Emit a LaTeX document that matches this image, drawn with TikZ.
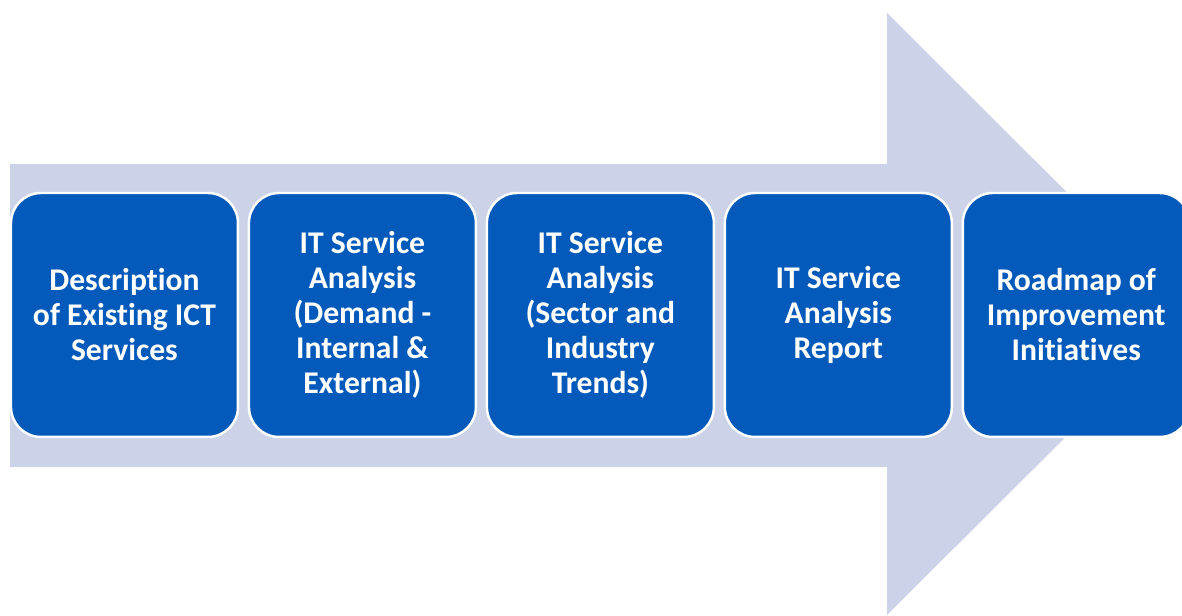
\documentclass[tikz,border=0pt]{standalone}
\usepackage{fontspec}
\setmainfont[Ligatures=NoCommon]{Carlito}
\usetikzlibrary{positioning}

\definecolor{stageblue}{RGB}{4,90,186}
\definecolor{arrowgrey}{RGB}{204,211,232}
\tikzset{stage/.style={draw=white, line width=1.4pt, fill=stageblue, rounded corners=0.6cm,
    minimum width=4.54cm, minimum height=4.88cm, inner sep=0pt, outer sep=0pt,
    align=center, text=white, font=\fontsize{18}{19.9}\selectfont\bfseries}}

\begin{document}
\begin{tikzpicture}[x=0.02cm,y=-0.02cm]
  \useasboundingbox (0,0) rectangle (1182,615);
  % big arrow behind the stages
  \fill[arrowgrey] (10,164) -- (887,164) -- (887,13) -- (1189,314) -- (887,615) -- (887,467) -- (10,467) -- cycle;
  \node[stage, anchor=north west] (desc) at (11,193) {Description\\of Existing ICT\\Services};
  \node[stage, right=0.22cm of desc] (demand) {IT Service\\Analysis\\(Demand -\\Internal \&\\External)};
  \node[stage, right=0.22cm of demand] (trends) {IT Service\\Analysis\\(Sector and\\Industry\\Trends)};
  \node[stage, right=0.22cm of trends] (report) {IT Service\\Analysis\\Report};
  \node[stage, right=0.22cm of report] (roadmap) {Roadmap of\\Improvement\\Initiatives};
\end{tikzpicture}
\end{document}
